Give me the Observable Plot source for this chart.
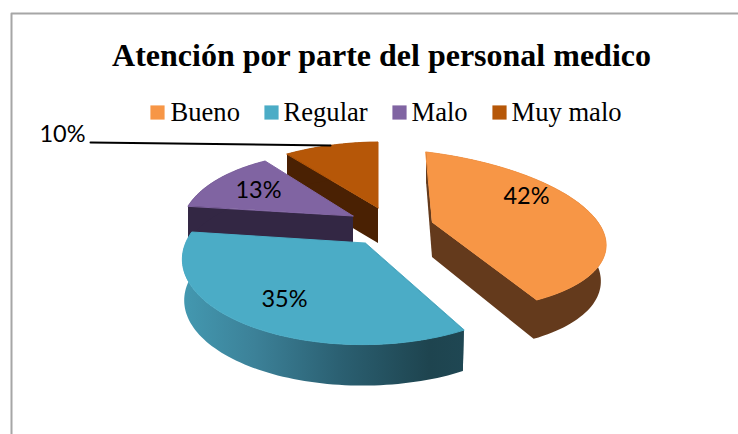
<!DOCTYPE html>
<html><head><meta charset="utf-8">
<script src="https://cdn.jsdelivr.net/npm/d3@7"></script>
<script src="https://cdn.jsdelivr.net/npm/@observablehq/plot@0.6"></script>
<style>html,body{margin:0;padding:0;background:#fff;overflow:hidden}</style>
</head><body><div id="chart"></div>
<script>
const titleText = "Atención por parte del personal medico";
const categories = ["Bueno", "Regular", "Malo", "Muy malo"];
const percents = [42, 35, 13, 10];
const topColors = ["#F79646", "#4BACC6", "#8064A2", "#B65708"];
const wallColors = ["#643A1C", "url(#blueWall)", "#332744", "#4A2103"];
const legendSwatchX = [157, 271, 399, 499];
const legendTextX = [170, 283, 411, 511];

// layout of the exploded 3D view: one perspective frame per slice
const views = [
  {ax:432,ay:222,a:198,b:-6.72,c:13.9,d:-78.4,k:.12,m:.15,depth:35,dx:0,sx:.97,sy:1.05,lx:526,ly:196,endWall:true},
  {ax:365,ay:243,a:179,b:3.4,c:.8,d:-83.3,k:.18,m:0,depth:41,dx:0,sx:.99,sy:1,lx:284,ly:299,endWall:false},
  {ax:353,ay:216,a:156,b:-6,c:.1,d:-74.6,k:.18,m:.08,depth:35,dx:0,sx:1,sy:1,lx:258,ly:190,endWall:false},
  {ax:378,ay:208,a:170,b:0,c:-6.3,d:-77.9,k:.18,m:.08,depth:35,dx:0,sx:1,sy:1,lx:62,ly:134,endWall:false}
];

const total = d3.sum(percents);
const starts = percents.map((_, i) => d3.sum(percents.slice(0, i)) / total * 2 * Math.PI);
const ends = percents.map((_, i) => d3.sum(percents.slice(0, i + 1)) / total * 2 * Math.PI);

function rim(v, t) {
  const X = Math.sin(t), Z = Math.cos(t), D = 1 + v.k * Z + v.m * X;
  return [(v.a * X + v.b * Z) / D, (v.c * X + v.d * Z) / D];
}
const topPt = (v, t) => { const [x, y] = rim(v, t); return {x: v.ax + x, y: v.ay + y}; };
const botPt = (v, t) => { const [x, y] = rim(v, t); return {x: v.ax + v.dx + x * v.sx, y: v.ay + v.depth + y * v.sy}; };

const steps = (a, b, n = 80) => d3.range(n + 1).map(i => a + (b - a) * i / n);

const walls = [], tops = [];
// slices are painted back to front
const order = [3, 2, 0, 1];
order.forEach(i => {
  const v = views[i], a = starts[i], b = ends[i];
  const apexT = {x: v.ax, y: v.ay}, apexB = {x: v.ax + v.dx, y: v.ay + v.depth};
  const push = (face, pts) => pts.forEach(([p, q]) => walls.push({face: i + "-" + face, i, x1: p.x, y1: p.y, x2: q.x, y2: q.y}));
  // inner wall at the start angle; the outer wall runs on into the end wall where that one faces the viewer
  push("s", [[apexT, apexB], [topPt(v, a), botPt(v, a)]]);
  const outer = steps(a, b).map(t => [topPt(v, t), botPt(v, t)]);
  push("o", v.endWall ? [...outer, [apexT, apexB]] : outer);
  steps(a, b).forEach(t => { const p = topPt(v, t); tops.push({i, x1: p.x, y1: p.y, x2: v.ax, y2: v.ay}); });
});

const wallsOf = i => walls.filter(d => d.i === i);
const topsOf = i => tops.filter(d => d.i === i);
const faceMarks = order.flatMap(i => [
  Plot.area(wallsOf(i), {x1: "x1", y1: "y1", x2: "x2", y2: "y2", z: "face", fill: wallColors[i], curve: "linear"}),
  Plot.area(topsOf(i), {x1: "x1", y1: "y1", x2: "x2", y2: "y2", fill: topColors[i], stroke: topColors[i], strokeWidth: 1, curve: "linear"})
]);

const chart = Plot.plot({
  width: 738, height: 434, margin: 0,
  x: {domain: [0, 738], range: [0, 738], axis: null},
  y: {domain: [0, 434], range: [0, 434], axis: null},
  style: {background: "#fff"},
  marks: [
    Plot.line([{x: 11, y: 434}, {x: 11, y: 13}, {x: 738, y: 13}],
      {x: "x", y: "y", stroke: "#A6A6A6", strokeWidth: 2}),
    Plot.text([titleText], {x: () => 381, y: () => 55, text: d => d, fontFamily: "Liberation Serif", fontWeight: "bold", fontSize: 32, fill: "#000"}),
    Plot.dot(categories, {x: (d, i) => legendSwatchX[i], y: () => 112, symbol: "square", r: 8, fill: (d, i) => topColors[i]}),
    Plot.text(categories, {x: (d, i) => legendTextX[i], y: () => 112, text: d => d, textAnchor: "start", fontFamily: "Liberation Serif", fontSize: 26.6, fill: "#000"}),
    ...faceMarks,
    Plot.text(percents, {x: (d, i) => views[i].lx, y: (d, i) => views[i].ly, text: d => d + "%", fontFamily: "Lato", fontSize: 23.5, fill: "#000"}),
    Plot.line([{x: 90, y: 142}, {x: 330, y: 145}], {x: "x", y: "y", stroke: "#000", strokeWidth: 2})
  ]
});
const defs = d3.create("svg:defs");
const grad = defs.append("linearGradient").attr("id", "blueWall").attr("gradientUnits", "userSpaceOnUse")
  .attr("x1", 184).attr("x2", 466).attr("y1", 0).attr("y2", 0);
[[0, "#4398B0"], [.25, "#3C8198"], [.55, "#2B6072"], [.87, "#1E444F"], [1, "#1F4753"]]
  .forEach(([o, c]) => grad.append("stop").attr("offset", o).attr("stop-color", c));
chart.prepend(defs.node());
document.getElementById("chart").append(chart);
</script>
</body></html>
